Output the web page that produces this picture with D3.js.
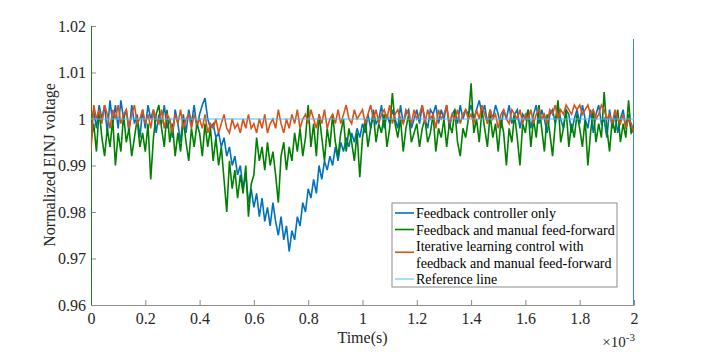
<!DOCTYPE html>
<html>
<head>
<meta charset="utf-8">
<script src="https://cdn.jsdelivr.net/npm/d3@7/dist/d3.min.js"></script>
<style>
  body { margin: 0; background: #fff; }
  svg text { font-family: "Liberation Serif", "Times New Roman", serif; }
</style>
</head>
<body>
<div id="chart-area"></div>
<script>
// values, as deviation from 1 in thousandths (v = 1 + d/1000)
// one sample every 0.01 ms, 0 .. 2 ms
var blueMilli = [
  -1, 2, -2, 3, 0, 3, -3, 4, -1, 3, -2, 4, 0, 2, -3, 3, -1, 1, -4, 2,
  -2, 3, 0, 2, -3, 1, -1, 3, -2, 0, -4, 2, -1, -5, 1, -3, 2, -1, 3, -2,
  1, 3, 4.5, 0, -2, -1, -4, -3, -6, -4, -8, -6, -10, -8, -12, -10, -15, -12, -18, -15,
  -19, -16, -21, -17, -22, -19, -23, -18, -22, -25, -21, -26, -23, -28.5, -24, -26, -21, -23, -18, -20,
  -15, -17, -13, -16, -10, -13, -9, -11, -8, -10, -6, -9, -5, -7, -4, -6, -3, -5, -2, -4,
  -1, -3, 1, -2, 2, -1, 0, 3, -2, 1, -1, 2, 0, -2, 3, -1, 1, 2, -2, 0,
  2, -1, 3, 0, -2, 2, 1, 3, -1, 2, 0, 3, -2, 1, 2, -1, 3, 0, 2, 1,
  3, 0, 2, 4, 1, 3, -1, 2, 0, 3, 1, -2, 2, 0, 3, -1, 1, 2, -2, 1,
  0, 2, -2, 1, 3, -1, 2, 0, -3, 1, 2, -1, 3, 0, -2, 2, 1, -3, 0, 2,
  -1, 3, 0, -2, 2, -3, 1, 3, -1, 0, -4, 2, -2, 1, -3, 0, 2, -2, 1, -3, -1
];
var greenMilli = [
  -5, -1, -7, 2, -4, -8, -2, -6, 0, -10, -3, -7, 1, -5, -2, -8, -4, 0, -6, -3,
  -7, -1, -13, -4, 1, 3, -2, -6, 2, -5, -1, -8, -3, -7, 0, -5, -9, -2, -6, -1,
  -3, -8, -1, -6, -2, -9, -4, -10, -6, -13, -20, -9, -15, -11, -17, -12, -16, -10, -21, -14,
  -12, -4, -9, -6, -11, -5, -10, -7, -12, -18, -8, -5, -11, -6, -9, -3, -7, -2, -8, -4,
  3, -6, -1, -8, 1, -4, -9, -2, -6, 1, -5, -8, -3, 0, -7, -2, -5, -9, -3, -12.5,
  -4, 0, -6, -2, 1, -5, -1, -3, 1, -6, -2, 5.6, -1, -4, 0, -7, -2, 1, -5, -3,
  -1, -6, -2, 0, -5, -3, 1, -7, -2, -4, 0, -6, -1, -3, 2, -5, -8, -2, -4, 0,
  7.7, -3, 0, -5, 2, -2, -6, 1, -4, -1, -7, 0, -3, -10, -2, -5, 1, -4, -10, -1,
  -3, 2, -6, 0, -4, 3, -2, -7, 1, -3, -8, -1, 4, -5, -2, 2, -6, -1, -4, 1,
  -2, -6, 0, -10, -3, 2, -5, -1, -4, 5.8, -2, -7, 0, -3, 2, -5, -1, -4, 4, -3, -2
];
var orangeMilli = [
  -7, 3, 0, 2, -1, 3, 1, -2, 2, 0, 3, -1, 1, 2, -2, 1, 3, -1, 0, 2,
  -1, 1, -2, 2, 0, -1, 2, -2, 1, 0, -3, 1, -1, 2, -2, 0, 1, -2, 1, -1,
  0, -2, 1, -3, -1, -2, 0, -3, -1, 1, -2, -3, 0, -2, -1, -3, 0, -2, 1, -2,
  -1, -3, 0, -2, 1, -3, -1, 0, -2, 2, -1, -3, 0, -2, 1, -1, 2, -2, 0, 1,
  -1, 2, 0, -2, 1, -1, 2, -2, 0, 1, -1, 2, -1, 1, 3, 0, -1, 2, 0, 1,
  2, -1, 1, 3, 0, 2, -1, 1, 2, 0, 3, -1, 1, 2, 0, -1, 2, 1, -1, 2,
  0, 1, 3, -1, 2, 0, 1, -2, 2, 0, 1, 3, -1, 1, 0, 2, -1, 1, 2, 0,
  1, -1, 2, 0, 3, 1, -1, 2, 0, 1, -2, 1, 2, 0, -1, 2, 1, 0, 2, -1,
  1, 0, 2, -1, 1, 2, 0, 1, -1, 2, 1, 3, 0, 2, 1, 3, 2, 1, 3, 2,
  3, 1, 2, 3, 1, 2, 0, 1, 3, 2, 0, 1, -1, 2, 0, -1, 1, -2, 0, -1, -3
];
// switching transients at the edges (plain values)
var greenStart = [1.021, 0.958];   // at t = 0
var blueEnd = [1.0172, 0.955];     // at t = 2
var refValue = 1;

var xTicks = [0, 0.2, 0.4, 0.6, 0.8, 1, 1.2, 1.4, 1.6, 1.8, 2];
var yTicks = [0.96, 0.97, 0.98, 0.99, 1, 1.01, 1.02];
var legendLabels = [
  ['Feedback controller only'],
  ['Feedback and manual feed-forward'],
  ['Iterative learning control with', 'feedback and manual feed-forward'],
  ['Reference line']
];

var def = {
    width: 702,
    height: 352,
    left: 91,
    top: 26,
    right: 68,
    bottom: 47,
    blue: '#0072BD',
    green: '#008000',
    orange: '#D95319',
    ref: '#4DBEEE',
    axis: '#8c8c8c',
    ink: '#262626',
    font: '"Liberation Serif", "Times New Roman", serif'
};
var w = def.width - def.left - def.right;
var h = def.height - def.top - def.bottom;

var svg = d3.select('#chart-area').append('svg')
    .attr('width', def.width)
    .attr('height', def.height);
var g = svg.append('g')
    .attr('transform', 'translate(' + def.left + ',' + def.top + ')');

var x = d3.scaleLinear().domain([0, 2]).range([0, w]);
var y = d3.scaleLinear().domain([0.96, 1.02]).range([h, 0]);

// sample grid in ms
var timeMs = d3.range(blueMilli.length).map(i => i * 0.01);
function toSeries(arr) {
    return arr.map((d, i) => ({ t: timeMs[i], v: 1 + d / 1000 }));
}
var blue = toSeries(blueMilli).concat(blueEnd.map(v => ({ t: 2, v: v })));
var green = greenStart.map(v => ({ t: 0, v: v })).concat(toSeries(greenMilli));
var orange = toSeries(orangeMilli);
var ref = [{ t: 0, v: refValue }, { t: 2, v: refValue }];

// axes (ticks pointing in, like matlab)
var xAx = d3.axisBottom(x).tickValues(xTicks).tickSizeInner(-5).tickSizeOuter(0)
    .tickPadding(8).tickFormat(d3.format('~g'));
var yAx = d3.axisLeft(y).tickValues(yTicks).tickSizeInner(-5).tickSizeOuter(0)
    .tickPadding(5).tickFormat(d3.format('~g'));

var xUnit = g.append('g').attr('transform', 'translate(0,' + h + ')').call(xAx);
var yUnit = g.append('g').call(yAx);
[xUnit, yUnit].forEach(a => {
    a.attr('font-family', def.font).attr('font-size', 16);
    a.select('.domain').attr('stroke', def.axis);
    a.selectAll('.tick line').attr('stroke', def.axis);
    a.selectAll('.tick text').attr('fill', def.ink);
});

// lines
svg.append('defs').append('clipPath').attr('id', 'plot-clip')
    .append('rect').attr('width', w).attr('height', h);
var plot = g.append('g').attr('clip-path', 'url(#plot-clip)');
var line = d3.line().x(d => x(d.t)).y(d => y(d.v));

plot.append('path').datum(blue).attr('d', line)
    .attr('fill', 'none').attr('stroke', def.blue).attr('stroke-width', 1.6);
plot.append('path').datum(green).attr('d', line)
    .attr('fill', 'none').attr('stroke', def.green).attr('stroke-width', 1.6);
plot.append('path').datum(orange).attr('d', line)
    .attr('fill', 'none').attr('stroke', def.orange).attr('stroke-width', 1.6);
plot.append('path').datum(ref).attr('d', line)
    .attr('fill', 'none').attr('stroke', def.ref).attr('stroke-width', 1);

// labels
g.append('text')
    .attr('x', w / 2)
    .attr('y', h + 38)
    .attr('text-anchor', 'middle')
    .attr('font-size', '16px')
    .attr('fill', def.ink)
    .text('Time(s)');

g.append('text')
    .attr('transform', 'rotate(-90)')
    .attr('x', -139)
    .attr('y', -36)
    .attr('text-anchor', 'middle')
    .attr('font-size', '16px')
    .attr('fill', def.ink)
    .text('Normalized EINJ voltage');

var expo = g.append('text')
    .attr('x', w + 1)
    .attr('y', h + 42)
    .attr('text-anchor', 'end')
    .attr('font-size', '15px')
    .attr('fill', def.ink);
expo.append('tspan').text('\u00d710');
expo.append('tspan').attr('dy', -6).attr('font-size', '11px').text('-3');

// legend
var colors = [def.blue, def.green, def.orange, def.ref];
var widths = [1.6, 1.6, 1.6, 1];
var leg = svg.append('g').attr('transform', 'translate(392,203)');
leg.append('rect')
    .attr('width', 225).attr('height', 84)
    .attr('fill', '#fff').attr('stroke', def.axis).attr('stroke-width', 1);
var lineH = 16.5;
var row = 0;
legendLabels.forEach((lab, i) => {
    var c0 = 10 + row * lineH;
    var cy = c0 + (lab.length - 1) * lineH / 2 + (lab.length > 1 ? -2 : 0);
    leg.append('line')
        .attr('x1', 3).attr('x2', 22)
        .attr('y1', cy).attr('y2', cy)
        .attr('stroke', colors[i]).attr('stroke-width', widths[i]);
    lab.forEach((s, k) => {
        leg.append('text')
            .attr('x', 24)
            .attr('y', c0 + k * lineH + 5)
            .attr('font-size', '14px')
            .attr('fill', '#000')
            .text(s);
    });
    row += lab.length;
});
</script>
</body>
</html>
